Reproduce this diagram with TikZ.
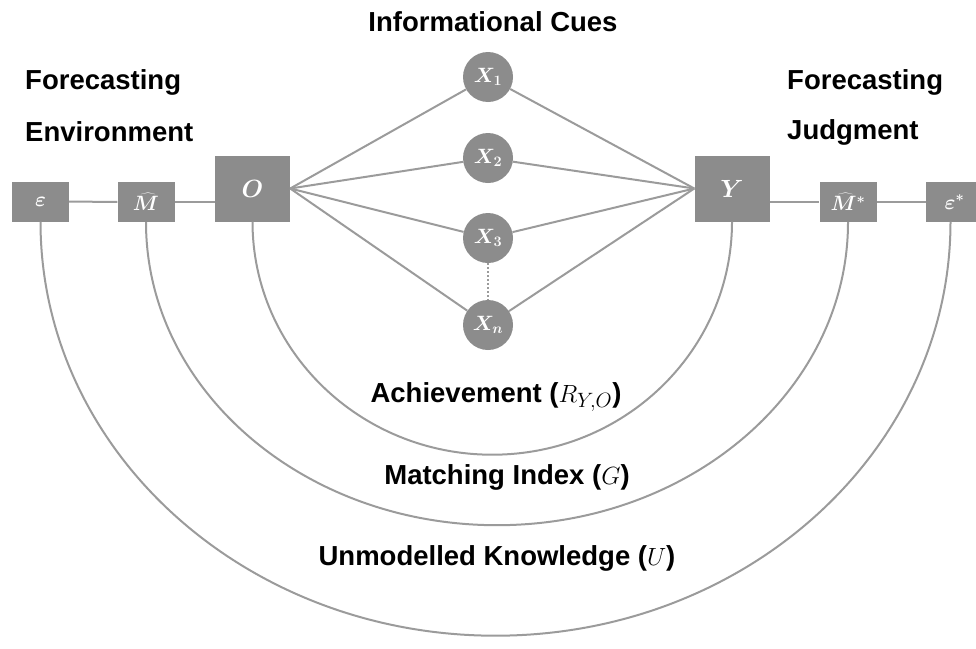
\documentclass[tikz,border=0pt]{standalone}
\usepackage{fontspec}
\setmainfont{Liberation Sans}
\definecolor{boxgray}{RGB}{140,140,140}
\definecolor{linegray}{RGB}{155,155,155}
\tikzset{
  sqbox/.style={fill=boxgray, draw=none, text=white, inner sep=0pt, font=\fontsize{21}{21}\selectfont\boldmath},
  smallbox/.style={sqbox, minimum width=57pt, minimum height=40pt},
  bigbox/.style={sqbox, minimum width=75pt, minimum height=66pt, font=\fontsize{24}{24}\selectfont\boldmath},
  cue/.style={circle, fill=boxgray, draw=none, text=white, minimum size=50pt, inner sep=0pt, font=\fontsize{21}{21}\selectfont\boldmath},
  conn/.style={draw=linegray, line width=2pt},
  title/.style={font=\fontsize{27.5}{27.5}\selectfont\bfseries, text=black, inner sep=0pt},
  arclabel/.style={font=\fontsize{27.5}{27.5}\selectfont\bfseries, text=black, inner sep=0pt}
}
\begin{document}
\begin{tikzpicture}[x=1pt,y=1pt]
\useasboundingbox (0,0) rectangle (976,-648);
% boxes
\node[smallbox] (eps) at (40.5,-201.5) {$\varepsilon$};
\node[smallbox] (mhat) at (146,-202) {$\widehat{M}$};
\node[bigbox] (O) at (252.5,-188.5) {$O$};
\node[bigbox] (Y) at (732,-188.5) {$Y$};
\node[smallbox] (mhats) at (848,-202) {$\widehat{M}^{*}$};
\node[smallbox] (epss) at (954.5,-202) {$\varepsilon^{*}$};
% cues
\node[cue] (x1) at (488,-77) {$X_1$};
\node[cue] (x2) at (488,-158) {$X_2$};
\node[cue] (x3) at (488,-238) {$X_3$};
\node[cue] (xn) at (488,-325) {$X_n$};
% chain lines
\draw[conn] (eps) -- (mhat);
\draw[conn] (mhat) -- (mhat -| O.west);
\draw[conn] (Y.east |- mhats) -- (mhats);
\draw[conn] (mhats) -- (epss);
% fan lines
\foreach \c in {x1,x2,x3,xn}{
  \draw[conn] (O.east) -- (\c);
  \draw[conn] (\c) -- (Y.west);
}
\draw[draw=linegray, line width=2pt, dotted] (x3.south) -- (xn.north);
% arcs
\draw[conn] (O.south) arc[start angle=180, end angle=360, x radius=239.75, y radius=233];
\draw[conn] (mhat.south) arc[start angle=180, end angle=360, x radius=351, y radius=303];
\draw[conn] (eps.south) arc[start angle=180, end angle=360, x radius=455, y radius=414];
% titles
\node[title] (tcues) at (493,-22) {Informational Cues};
\node[title, anchor=west] (tenv1) at (25,-82) {Forecasting};
\node[title, anchor=west] (tenv2) at (25,-132) {Environment};
\node[title, anchor=west] (tjud1) at (787,-82) {Forecasting};
\node[title, anchor=west] (tjud2) at (787,-132) {Judgment};
% arc labels
\node[arclabel] (lach) at (496,-397) {Achievement ($R_{Y,O}$)};
\node[arclabel] (lmat) at (507,-477) {Matching Index ($G$)};
\node[arclabel] (lunm) at (497,-558) {Unmodelled Knowledge ($U$)};
\end{tikzpicture}
\end{document}
